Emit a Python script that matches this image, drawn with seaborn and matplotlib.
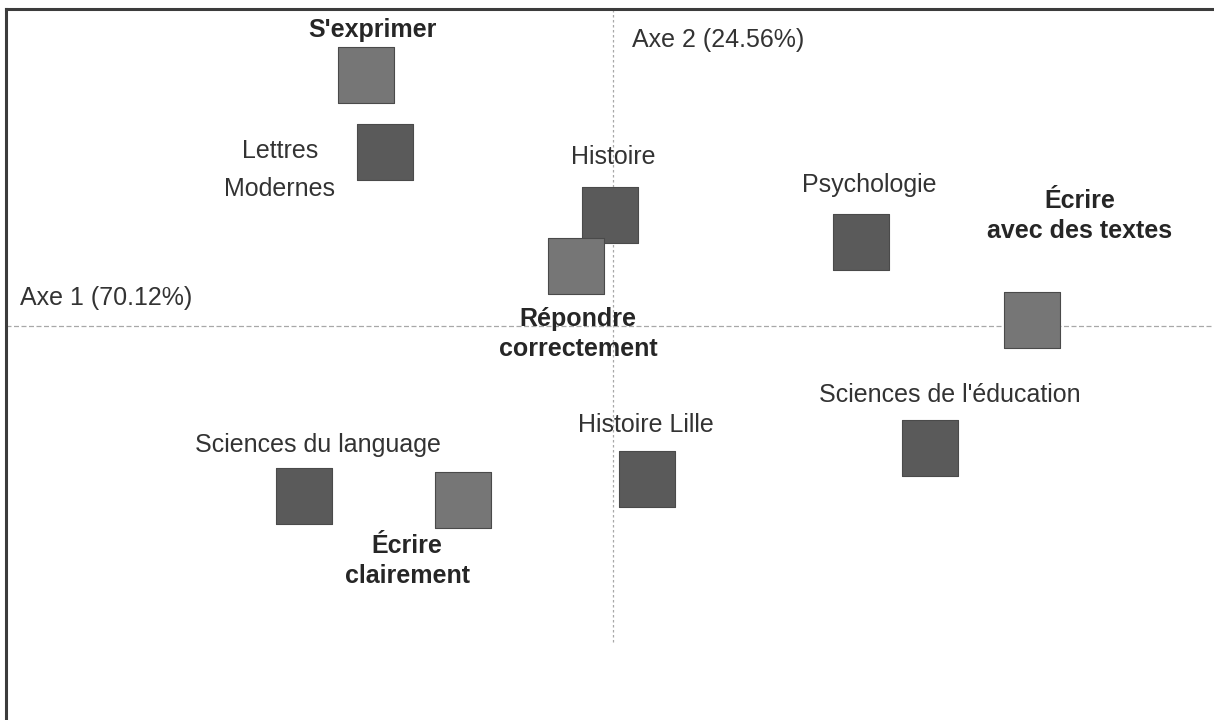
import matplotlib
matplotlib.use("Agg")
import matplotlib.pyplot as plt
import seaborn as sns
import pandas as pd

# ---- data (factor coordinates) ----
labels = ["S'exprimer", "Lettres\nModernes", "Histoire", "Répondre\ncorrectement",
          "Psychologie", "Écrire\navec des textes", "Sciences de l'éducation",
          "Histoire Lille", "Sciences du language", "Écrire\nclairement"]
axis1 = [-2.47, -2.28, -0.03, -0.37, 2.48, 4.19, 3.17, 0.34, -3.09, -1.50]
axis2 = [2.51, 1.74, 1.11, 0.60, 0.84, 0.06, -1.22, -1.53, -1.70, -1.74]
kind = ["modalité", "discipline", "discipline", "modalité", "discipline",
        "modalité", "discipline", "discipline", "discipline", "modalité"]
axis1_title = "Axe 1 (70.12%)"
axis2_title = "Axe 2 (24.56%)"

# ---- layout (label anchor positions, in axis units) ----
label_xy = [(-2.41, 2.96), (-3.33, 1.56), (0.00, 1.69), (-0.35, -0.08),
            (2.56, 1.41), (4.67, 1.10), (3.37, -0.69), (0.33, -0.99),
            (-2.95, -1.19), (-2.06, -2.35)]

df = pd.DataFrame({"label": labels, "x": axis1, "y": axis2, "kind": kind})

sns.set_theme(style="white")
plt.rcParams["font.family"] = ["Liberation Sans", "DejaVu Sans"]

W, H = 1214, 720
fig = plt.figure(figsize=(W / 100, H / 100), dpi=100)
ax = fig.add_axes([6 / W, 0, 1 - 6 / W, 1 - 9 / H])
ax.set_xlim(-6.07, 6.01)
ax.set_ylim(-3.94, 3.17)

# reference axes
ax.axhline(0, color="#a8a8a8", lw=0.9, ls=(0, (4, 2)), zorder=1)
ax.axvline(0, ymin=(720 - 642) / 711, ymax=1, color="#a8a8a8", lw=0.9,
           ls=(0, (2, 2)), zorder=1)

sns.scatterplot(data=df, x="x", y="y", hue="kind", marker="s", s=1600,
                palette={"discipline": "#5a5a5a", "modalité": "#767676"},
                edgecolor="#4a4a4a", linewidth=0.8, legend=False, ax=ax, zorder=3)

for lab, k, (lx, ly) in zip(labels, kind, label_xy):
    if k == "modalité":
        ax.text(lx, ly, lab, ha="center", va="center", fontsize=18,
                fontweight="bold", color="#262626", linespacing=1.35, zorder=4)
    else:
        ax.text(lx, ly, lab, ha="center", va="center", fontsize=18,
                color="#333333", linespacing=1.7, zorder=4)

ax.text(0.19, 2.86, axis2_title, ha="left", va="center", fontsize=18, color="#333333")
ax.text(-5.93, 0.28, axis1_title, ha="left", va="center", fontsize=18, color="#333333")

ax.set_xlabel("")
ax.set_ylabel("")
ax.set_xticks([])
ax.set_yticks([])
for side in ["right", "bottom"]:
    ax.spines[side].set_visible(False)
for side in ["left", "top"]:
    ax.spines[side].set_visible(True)
    ax.spines[side].set_color("#3c3c3c")
    ax.spines[side].set_linewidth(2.2)

fig.savefig("out.png", dpi=100)
